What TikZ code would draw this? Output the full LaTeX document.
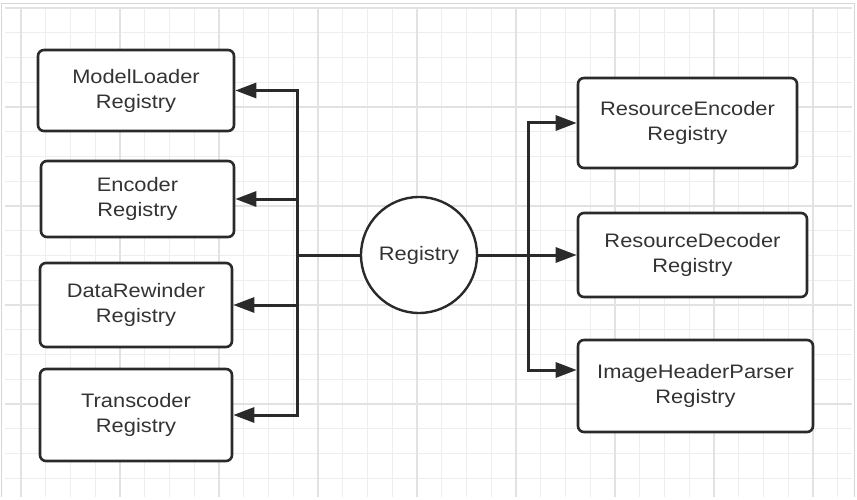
\documentclass[tikz,border=0pt]{standalone}
\usepackage{fontspec}
\setmainfont{Liberation Sans}[FakeStretch=1.12]
\usetikzlibrary{arrows.meta}
\definecolor{gridminor}{HTML}{EEEEEE}
\definecolor{gridmajor}{HTML}{E2E2E2}
\definecolor{framegray}{HTML}{D6D6D6}
\definecolor{ink}{HTML}{2A2A2A}
\definecolor{txt}{HTML}{333333}
\begin{document}
\begin{tikzpicture}[x=1pt, y=-1pt,
	registry/.style={draw=ink, line width=2.6pt, rounded corners=6pt, fill=white, align=center, text=txt, inner sep=0pt, font=\fontsize{19.5}{25}\selectfont},
	hub/.style={circle, draw=ink, line width=2.4pt, fill=white, minimum size=116pt, inner sep=0pt, text=txt, font=\fontsize{19.5}{25}\selectfont},
	link/.style={draw=ink, line width=3pt},
	arr/.style={link, -{Triangle[length=21pt, width=15pt]}}]
	\useasboundingbox (0,0) rectangle (857,500);
	\foreach \i in {0,...,33} {
		\draw[gridminor, line width=1pt] (21+24.75*\i, 8) -- (21+24.75*\i, 497);
	}
	\foreach \j in {0,...,19} {
		\draw[gridminor, line width=1pt] (5, 8+24.75*\j) -- (852, 8+24.75*\j);
	}
	\foreach \i in {0,4,...,32} {
		\draw[gridmajor, line width=1.2pt] (21+24.75*\i, 8) -- (21+24.75*\i, 497);
	}
	\foreach \j in {0,4,...,16} {
		\draw[gridmajor, line width=1.2pt] (5, 8+24.75*\j) -- (852, 8+24.75*\j);
	}
	\draw[framegray, line width=1pt] (1.5,497) -- (1.5,3.5) -- (854.5,3.5) -- (854.5,497);

	\node[registry, minimum width=196pt, minimum height=81pt] (modelloader) at (136,90.5) {ModelLoader\\Registry};
	\node[registry, minimum width=193pt, minimum height=76pt] (encoder) at (137.5,199) {Encoder\\Registry};
	\node[registry, minimum width=192pt, minimum height=84pt] (datarewinder) at (136,305) {DataRewinder\\Registry};
	\node[registry, minimum width=192pt, minimum height=92pt] (transcoder) at (136,415) {Transcoder\\Registry};
	\node[registry, minimum width=219pt, minimum height=90pt] (resencoder) at (687.5,123) {ResourceEncoder\\Registry};
	\node[registry, minimum width=229pt, minimum height=84pt] (resdecoder) at (692.5,255) {ResourceDecoder\\Registry};
	\node[registry, minimum width=235pt, minimum height=92pt] (headerparser) at (695.5,386) {ImageHeaderParser\\Registry};
	\node[hub] (registry) at (419,255) {Registry};

	\coordinate (lbus) at (297,255);
	\coordinate (rbus) at (528,255);
	\draw[link] (registry.west) -- (lbus);
	\draw[link] (registry.east) -- (rbus);
	\draw[arr] (lbus) |- (modelloader.east);
	\draw[arr] (lbus) |- (encoder.east);
	\draw[arr] (lbus) |- (datarewinder.east);
	\draw[arr] (lbus) |- (transcoder.east);
	\draw[arr] (rbus) |- (resencoder.west);
	\draw[arr] (rbus) -- (resdecoder.west);
	\draw[arr] (rbus) |- ([yshift=16pt]headerparser.west);
\end{tikzpicture}
\end{document}
